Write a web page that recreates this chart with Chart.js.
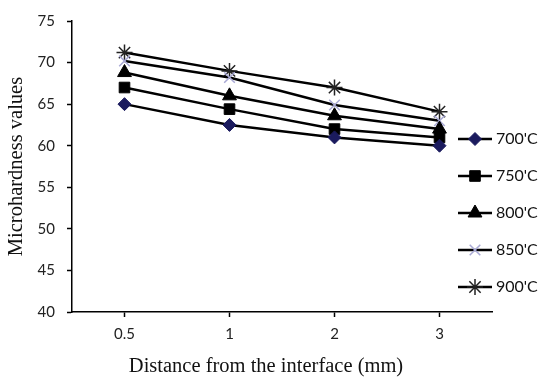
<!DOCTYPE html>
<html><head><meta charset="utf-8">
<script src="https://cdn.jsdelivr.net/npm/chart.js@4.4.0/dist/chart.umd.min.js"></script>
<style>html,body{margin:0;padding:0;background:#fff}#wrap{width:550px;height:382px}</style>
</head><body><div id="wrap"><canvas id="c" width="550" height="382"></canvas></div>
<script>
const categories = ['0.5', '1', '2', '3'];
const seriesNames = ["700'C", "750'C", "800'C", "850'C", "900'C"];
const s700 = [65, 62.5, 61, 60];
const s750 = [67, 64.4, 62, 61];
const s800 = [68.8, 66, 63.6, 62];
const s850 = [70.2, 68.2, 64.9, 63];
const s900 = [71.2, 69, 67, 64.1];
const yTicks = {min: 40, max: 75, step: 5};
const xTitle = 'Distance from the interface (mm)';
const yTitle = 'Microhardness values';

const styles = [
  {pointStyle:'rectRot', radius:6.5, color:'#1b1b5e', fill:'#1b1b5e'},
  {pointStyle:'rect', radius:7.5, color:'#000', fill:'#000'},
  {pointStyle:'triangle', radius:8, color:'#000', fill:'#000'},
  {pointStyle:'crossRot', radius:7.5, color:'#a8a8d4', fill:'#a8a8d4'},
  {pointStyle:'star', radius:8, color:'#222', fill:'#222'}
];
const values = [s700, s750, s800, s850, s900];
const datasets = values.map((v, i) => ({
  label: seriesNames[i],
  data: v,
  borderColor: '#000',
  borderWidth: 2.5,
  pointStyle: styles[i].pointStyle,
  pointRadius: styles[i].radius,
  pointHoverRadius: styles[i].radius,
  pointBackgroundColor: styles[i].fill,
  pointBorderColor: styles[i].color,
  pointBorderWidth: (i >= 3) ? 1.5 : 1,
  tension: 0,
  fill: false
}));

const legendPlugin = {
  id: 'sideLegend',
  afterDraw(chart) {
    const ctx = chart.ctx;
    const x0 = 458, x1 = 492, tx = 496;
    const yStart = 139, dy = 37;
    ctx.save();
    chart.data.datasets.forEach((ds, i) => {
      const y = yStart + i * dy;
      ctx.strokeStyle = '#000';
      ctx.lineWidth = 2.5;
      ctx.beginPath(); ctx.moveTo(x0, y); ctx.lineTo(x1, y); ctx.stroke();
      ctx.strokeStyle = ds.pointBorderColor;
      ctx.fillStyle = ds.pointBackgroundColor;
      ctx.lineWidth = ds.pointBorderWidth;
      Chart.helpers.drawPoint(ctx, {pointStyle: ds.pointStyle, radius: ds.pointRadius, rotation: 0, borderWidth: ds.pointBorderWidth}, (x0 + x1) / 2, y);
      ctx.fillStyle = '#111';
      ctx.font = '16px Lato';
      ctx.textBaseline = 'middle';
      ctx.textAlign = 'left';
      ctx.fillText(ds.label, tx, y);
    });
    // x axis title
    ctx.fillStyle = '#111';
    ctx.font = '20.5px "Liberation Serif"';
    ctx.textAlign = 'center';
    ctx.textBaseline = 'middle';
    ctx.fillText(xTitle, chart.chartArea.left + 194, 367);
    ctx.restore();
  }
};

new Chart(document.getElementById('c'), {
  type: 'line',
  data: {labels: categories, datasets},
  options: {
    responsive: false,
    animation: false,
    devicePixelRatio: 1,
    layout: {padding: {left: 0, right: 58, top: 14, bottom: 0}},
    plugins: {legend: {display: false}, tooltip: {enabled: false}},
    scales: {
      x: {
        offset: true,
        grid: {display: true, drawOnChartArea: false, offset: false, tickLength: 5, color: '#000', tickWidth: 1.5},
        border: {color: '#000', width: 1.5},
        ticks: {color: '#222', font: {family: 'Lato', size: 15}, padding: 8},
        title: {display: false},
        afterFit(s) { s.height = 70; }
      },
      y: {
        min: yTicks.min, max: yTicks.max,
        grid: {display: true, drawOnChartArea: false, tickLength: 5, color: '#000', tickWidth: 1.5},
        border: {color: '#000', width: 1.5},
        ticks: {stepSize: yTicks.step, color: '#222', font: {family: 'Lato', size: 15}, padding: 12},
        title: {display: true, text: yTitle, color: '#111', font: {family: 'Liberation Serif', size: 20.5}, padding: {top: 4, bottom: 0}},
        afterFit(s) { s.width = 72; }
      }
    }
  },
  plugins: [legendPlugin]
});
</script></body></html>
